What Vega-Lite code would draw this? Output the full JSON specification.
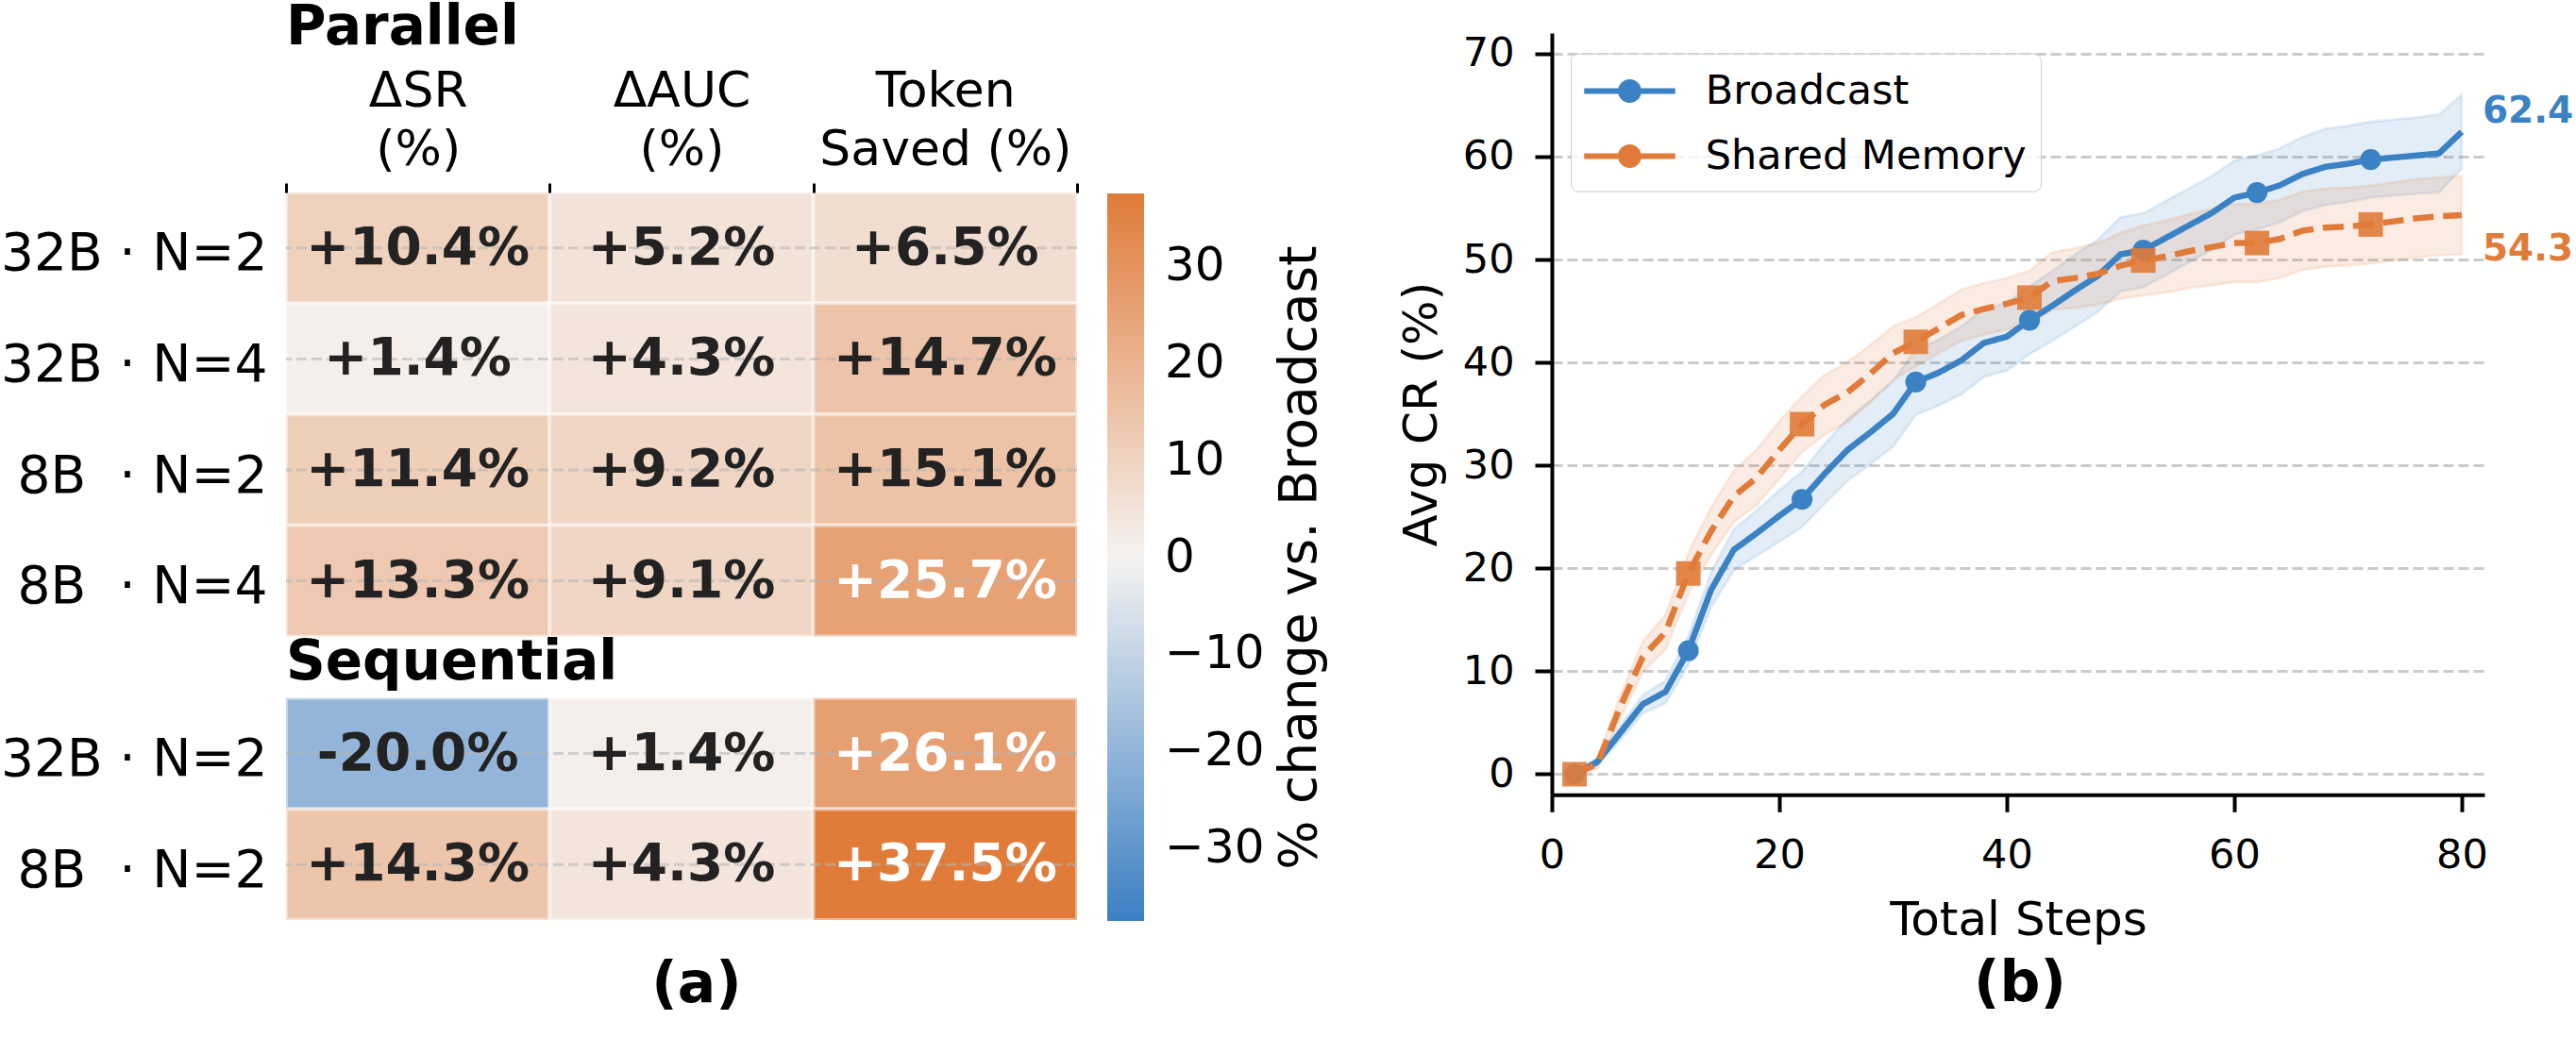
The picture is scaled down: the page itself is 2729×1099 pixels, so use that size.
{
  "$schema": "https://vega.github.io/schema/vega-lite/v6.json",
  "background": "white",
  "autosize": {"type": "pad"},
  "padding": {"left": 0, "top": 1, "right": 0, "bottom": 6},
  "spacing": 503,
  "bounds": "flush",
  "config": {
    "font": "DejaVu Sans",
    "view": {"stroke": null},
    "axis": {"labelColor": "black", "titleColor": "black", "titleFontWeight": "normal", "domainColor": "black", "tickColor": "black"},
    "title": {"color": "black"}
  },
  "hconcat": [
    {
      "width": 838,
      "height": 940,
      "data": {"values": [
        {"setting": "Parallel", "cfg": "32B · N=2", "row": 0, "metric": "ΔSR (%)", "value": 10.4, "label": "+10.4%"},
        {"setting": "Parallel", "cfg": "32B · N=2", "row": 0, "metric": "ΔAUC (%)", "value": 5.2, "label": "+5.2%"},
        {"setting": "Parallel", "cfg": "32B · N=2", "row": 0, "metric": "Token Saved (%)", "value": 6.5, "label": "+6.5%"},
        {"setting": "Parallel", "cfg": "32B · N=4", "row": 1, "metric": "ΔSR (%)", "value": 1.4, "label": "+1.4%"},
        {"setting": "Parallel", "cfg": "32B · N=4", "row": 1, "metric": "ΔAUC (%)", "value": 4.3, "label": "+4.3%"},
        {"setting": "Parallel", "cfg": "32B · N=4", "row": 1, "metric": "Token Saved (%)", "value": 14.7, "label": "+14.7%"},
        {"setting": "Parallel", "cfg": "8B · N=2", "row": 2, "metric": "ΔSR (%)", "value": 11.4, "label": "+11.4%"},
        {"setting": "Parallel", "cfg": "8B · N=2", "row": 2, "metric": "ΔAUC (%)", "value": 9.2, "label": "+9.2%"},
        {"setting": "Parallel", "cfg": "8B · N=2", "row": 2, "metric": "Token Saved (%)", "value": 15.1, "label": "+15.1%"},
        {"setting": "Parallel", "cfg": "8B · N=4", "row": 3, "metric": "ΔSR (%)", "value": 13.3, "label": "+13.3%"},
        {"setting": "Parallel", "cfg": "8B · N=4", "row": 3, "metric": "ΔAUC (%)", "value": 9.1, "label": "+9.1%"},
        {"setting": "Parallel", "cfg": "8B · N=4", "row": 3, "metric": "Token Saved (%)", "value": 25.7, "label": "+25.7%"},
        {"setting": "Sequential", "cfg": "32B · N=2", "row": 5, "metric": "ΔSR (%)", "value": -20.0, "label": "-20.0%"},
        {"setting": "Sequential", "cfg": "32B · N=2", "row": 5, "metric": "ΔAUC (%)", "value": 1.4, "label": "+1.4%"},
        {"setting": "Sequential", "cfg": "32B · N=2", "row": 5, "metric": "Token Saved (%)", "value": 26.1, "label": "+26.1%"},
        {"setting": "Sequential", "cfg": "8B · N=2", "row": 6, "metric": "ΔSR (%)", "value": 14.3, "label": "+14.3%"},
        {"setting": "Sequential", "cfg": "8B · N=2", "row": 6, "metric": "ΔAUC (%)", "value": 4.3, "label": "+4.3%"},
        {"setting": "Sequential", "cfg": "8B · N=2", "row": 6, "metric": "Token Saved (%)", "value": 37.5, "label": "+37.5%"}
      ]},
      "transform": [
        {"calculate": "datum.row + 1", "as": "row_end"},
        {"calculate": "datum.row + 0.5", "as": "row_mid"}
      ],
      "title": {"text": "(a)", "orient": "bottom", "frame": "group", "anchor": "middle", "fontSize": 60, "fontWeight": "bold", "offset": 38, "dx": 16},
      "layer": [
        {
          "mark": {"type": "rect", "stroke": "white", "strokeWidth": 4, "strokeOpacity": 0.45},
          "encoding": {
            "x": {"field": "metric", "type": "nominal",
              "scale": {"domain": ["ΔSR (%)", "ΔAUC (%)", "Token Saved (%)"], "paddingInner": 0, "paddingOuter": 0},
              "axis": {"orient": "top", "title": null, "domain": false, "tickBand": "extent", "tickSize": 10, "tickWidth": 3, "offset": -169, "labelAngle": 0, "labelFontSize": 52, "labelLineHeight": 62, "labelPadding": 71, "labelLimit": 0, "labelExpr": "datum.label == 'Token Saved (%)' ? ['Token', 'Saved (%)'] : split(datum.label, ' ')"}},
            "y": {"field": "row", "type": "quantitative",
              "scale": {"domain": [-1.4371, 4, 5, 7], "range": [0, 639.4, 704.8, 940], "nice": false, "zero": false},
              "axis": {"orient": "left", "title": null, "values": [0.5, 1.5, 2.5, 3.5, 5.5, 6.5], "domain": false, "ticks": false, "tickSize": 0, "grid": false, "labelFontSize": 55, "labelPadding": 20, "labelOffset": 6, "labelLimit": 0,
                "labelExpr": "datum.value < 1 ? '32B · N=2' : datum.value < 2 ? '32B · N=4' : datum.value < 3 ? '8B\u00a0 · N=2' : datum.value < 4 ? '8B\u00a0 · N=4' : datum.value < 6 ? '32B · N=2' : '8B\u00a0 · N=2'"}},
            "y2": {"field": "row_end"},
            "color": {"field": "value", "type": "quantitative",
              "scale": {"type": "linear", "domain": [-37.5, 0, 37.5], "range": ["#3b7fc4", "#f5f3f1", "#e07b39"], "interpolate": "rgb"},
              "legend": {"orient": "none", "legendX": 870, "legendY": 170, "direction": "vertical", "gradientLength": 771, "gradientThickness": 39, "gradientStrokeWidth": 0,
                "values": [-30, -20, -10, 0, 10, 20, 30], "labelFontSize": 50, "labelColor": "black", "labelOffset": 22, "labelOverlap": false,
                "title": "% change vs. Broadcast", "titleOrient": "right", "titleFontSize": 55, "titleFontWeight": "normal", "titleColor": "black", "titlePadding": 11, "titleAnchor": "middle", "titleLimit": 0, "padding": 0,
                "encode": {"title": {"update": {"angle": {"value": -90}, "baseline": {"value": "top"}}}}}
            }
          }
        },
        {
          "transform": [{"filter": "datum.metric == 'ΔSR (%)'"}],
          "mark": {"type": "rule", "strokeDash": [11, 5], "strokeWidth": 3, "color": "#b5b5b5", "opacity": 0.55},
          "encoding": {"y": {"field": "row_mid", "type": "quantitative"}}
        },
        {
          "mark": {"type": "text", "fontSize": 55, "fontWeight": "bold", "baseline": "middle", "align": "center"},
          "encoding": {
            "x": {"field": "metric", "type": "nominal"},
            "y": {"field": "row_mid", "type": "quantitative"},
            "text": {"field": "label"},
            "color": {"condition": {"test": "datum.value > 20", "value": "white"}, "value": "#222222"}
          }
        },
        {
          "data": {"values": [{"group": "Parallel"}]},
          "mark": {"type": "text", "fontSize": 58, "fontWeight": "bold", "align": "left", "baseline": "alphabetic", "color": "black"},
          "encoding": {
            "x": {"datum": "ΔSR (%)", "type": "nominal", "bandPosition": 0},
            "y": {"datum": -1.335, "type": "quantitative"},
            "text": {"field": "group"}
          }
        },
        {
          "data": {"values": [{"group": "Sequential"}]},
          "mark": {"type": "text", "fontSize": 58, "fontWeight": "bold", "align": "left", "baseline": "alphabetic", "color": "black"},
          "encoding": {
            "x": {"datum": "ΔSR (%)", "type": "nominal", "bandPosition": 0},
            "y": {"datum": 4.697, "type": "quantitative"},
            "text": {"field": "group"}
          }
        }
      ]
    },
    {
      "width": 988,
      "height": 807.3,
      "data": {"values": [
        {"series": "Broadcast", "step": 2, "mean": 0.0, "lo": 0.0, "hi": 0.0},
        {"series": "Broadcast", "step": 4, "mean": 1.2, "lo": 0.8, "hi": 1.6},
        {"series": "Broadcast", "step": 6, "mean": 4.0, "lo": 3.3, "hi": 4.7},
        {"series": "Broadcast", "step": 8, "mean": 6.8, "lo": 5.9, "hi": 7.7},
        {"series": "Broadcast", "step": 10, "mean": 8.0, "lo": 6.9, "hi": 9.1},
        {"series": "Broadcast", "step": 12, "mean": 12.0, "lo": 10.6, "hi": 13.4},
        {"series": "Broadcast", "step": 14, "mean": 17.9, "lo": 16.2, "hi": 19.6},
        {"series": "Broadcast", "step": 16, "mean": 21.8, "lo": 19.8, "hi": 23.8},
        {"series": "Broadcast", "step": 18, "mean": 23.4, "lo": 21.2, "hi": 25.6},
        {"series": "Broadcast", "step": 20, "mean": 25.1, "lo": 22.6, "hi": 27.6},
        {"series": "Broadcast", "step": 22, "mean": 26.7, "lo": 24.0, "hi": 29.4},
        {"series": "Broadcast", "step": 24, "mean": 29.2, "lo": 26.3, "hi": 32.1},
        {"series": "Broadcast", "step": 26, "mean": 31.5, "lo": 28.5, "hi": 34.5},
        {"series": "Broadcast", "step": 28, "mean": 33.2, "lo": 30.1, "hi": 36.3},
        {"series": "Broadcast", "step": 30, "mean": 35.0, "lo": 31.8, "hi": 38.2},
        {"series": "Broadcast", "step": 32, "mean": 38.1, "lo": 34.9, "hi": 41.3},
        {"series": "Broadcast", "step": 34, "mean": 39.0, "lo": 35.8, "hi": 42.2},
        {"series": "Broadcast", "step": 36, "mean": 40.2, "lo": 36.9, "hi": 43.5},
        {"series": "Broadcast", "step": 38, "mean": 41.9, "lo": 38.6, "hi": 45.2},
        {"series": "Broadcast", "step": 40, "mean": 42.5, "lo": 39.2, "hi": 45.8},
        {"series": "Broadcast", "step": 42, "mean": 44.1, "lo": 40.8, "hi": 47.4},
        {"series": "Broadcast", "step": 44, "mean": 45.5, "lo": 42.1, "hi": 48.9},
        {"series": "Broadcast", "step": 46, "mean": 47.0, "lo": 43.5, "hi": 50.5},
        {"series": "Broadcast", "step": 48, "mean": 48.4, "lo": 44.9, "hi": 51.9},
        {"series": "Broadcast", "step": 50, "mean": 50.5, "lo": 46.9, "hi": 54.1},
        {"series": "Broadcast", "step": 52, "mean": 50.9, "lo": 47.3, "hi": 54.5},
        {"series": "Broadcast", "step": 54, "mean": 52.1, "lo": 48.5, "hi": 55.7},
        {"series": "Broadcast", "step": 56, "mean": 53.3, "lo": 49.7, "hi": 56.9},
        {"series": "Broadcast", "step": 58, "mean": 54.5, "lo": 50.9, "hi": 58.1},
        {"series": "Broadcast", "step": 60, "mean": 56.0, "lo": 52.4, "hi": 59.6},
        {"series": "Broadcast", "step": 62, "mean": 56.5, "lo": 52.9, "hi": 60.1},
        {"series": "Broadcast", "step": 64, "mean": 57.2, "lo": 53.6, "hi": 60.8},
        {"series": "Broadcast", "step": 66, "mean": 58.3, "lo": 54.7, "hi": 61.9},
        {"series": "Broadcast", "step": 68, "mean": 59.0, "lo": 55.3, "hi": 62.7},
        {"series": "Broadcast", "step": 70, "mean": 59.3, "lo": 55.6, "hi": 63.0},
        {"series": "Broadcast", "step": 72, "mean": 59.7, "lo": 56.0, "hi": 63.4},
        {"series": "Broadcast", "step": 74, "mean": 59.9, "lo": 56.2, "hi": 63.6},
        {"series": "Broadcast", "step": 76, "mean": 60.1, "lo": 56.4, "hi": 63.8},
        {"series": "Broadcast", "step": 78, "mean": 60.3, "lo": 56.5, "hi": 64.1},
        {"series": "Broadcast", "step": 80, "mean": 62.4, "lo": 58.8, "hi": 66.0},
        {"series": "Shared Memory", "step": 2, "mean": 0.0, "lo": 0.0, "hi": 0.0},
        {"series": "Shared Memory", "step": 4, "mean": 1.0, "lo": 0.5, "hi": 1.5},
        {"series": "Shared Memory", "step": 6, "mean": 6.5, "lo": 5.4, "hi": 7.6},
        {"series": "Shared Memory", "step": 8, "mean": 11.4, "lo": 9.9, "hi": 12.9},
        {"series": "Shared Memory", "step": 10, "mean": 13.8, "lo": 12.1, "hi": 15.5},
        {"series": "Shared Memory", "step": 12, "mean": 19.5, "lo": 17.5, "hi": 21.5},
        {"series": "Shared Memory", "step": 14, "mean": 23.6, "lo": 21.3, "hi": 25.9},
        {"series": "Shared Memory", "step": 16, "mean": 27.0, "lo": 24.5, "hi": 29.5},
        {"series": "Shared Memory", "step": 18, "mean": 28.8, "lo": 26.1, "hi": 31.5},
        {"series": "Shared Memory", "step": 20, "mean": 31.5, "lo": 28.7, "hi": 34.3},
        {"series": "Shared Memory", "step": 22, "mean": 34.0, "lo": 31.3, "hi": 36.7},
        {"series": "Shared Memory", "step": 24, "mean": 35.9, "lo": 33.0, "hi": 38.8},
        {"series": "Shared Memory", "step": 26, "mean": 37.1, "lo": 34.2, "hi": 40.0},
        {"series": "Shared Memory", "step": 28, "mean": 38.9, "lo": 36.1, "hi": 41.7},
        {"series": "Shared Memory", "step": 30, "mean": 40.9, "lo": 38.3, "hi": 43.5},
        {"series": "Shared Memory", "step": 32, "mean": 42.0, "lo": 39.6, "hi": 44.4},
        {"series": "Shared Memory", "step": 34, "mean": 43.3, "lo": 40.9, "hi": 45.7},
        {"series": "Shared Memory", "step": 36, "mean": 44.6, "lo": 42.1, "hi": 47.1},
        {"series": "Shared Memory", "step": 38, "mean": 45.2, "lo": 42.7, "hi": 47.7},
        {"series": "Shared Memory", "step": 40, "mean": 45.7, "lo": 43.2, "hi": 48.2},
        {"series": "Shared Memory", "step": 42, "mean": 46.3, "lo": 43.7, "hi": 48.9},
        {"series": "Shared Memory", "step": 44, "mean": 47.9, "lo": 45.1, "hi": 50.7},
        {"series": "Shared Memory", "step": 46, "mean": 48.2, "lo": 45.3, "hi": 51.1},
        {"series": "Shared Memory", "step": 48, "mean": 48.6, "lo": 45.6, "hi": 51.6},
        {"series": "Shared Memory", "step": 50, "mean": 49.4, "lo": 46.2, "hi": 52.6},
        {"series": "Shared Memory", "step": 52, "mean": 49.9, "lo": 46.5, "hi": 53.3},
        {"series": "Shared Memory", "step": 54, "mean": 50.3, "lo": 46.8, "hi": 53.8},
        {"series": "Shared Memory", "step": 56, "mean": 50.8, "lo": 47.2, "hi": 54.4},
        {"series": "Shared Memory", "step": 58, "mean": 51.2, "lo": 47.5, "hi": 54.9},
        {"series": "Shared Memory", "step": 60, "mean": 51.6, "lo": 47.8, "hi": 55.4},
        {"series": "Shared Memory", "step": 62, "mean": 51.6, "lo": 47.8, "hi": 55.4},
        {"series": "Shared Memory", "step": 64, "mean": 52.0, "lo": 48.2, "hi": 55.8},
        {"series": "Shared Memory", "step": 66, "mean": 52.8, "lo": 49.0, "hi": 56.6},
        {"series": "Shared Memory", "step": 68, "mean": 53.1, "lo": 49.3, "hi": 56.9},
        {"series": "Shared Memory", "step": 70, "mean": 53.2, "lo": 49.4, "hi": 57.0},
        {"series": "Shared Memory", "step": 72, "mean": 53.4, "lo": 49.6, "hi": 57.2},
        {"series": "Shared Memory", "step": 74, "mean": 53.7, "lo": 49.9, "hi": 57.5},
        {"series": "Shared Memory", "step": 76, "mean": 54.0, "lo": 50.2, "hi": 57.8},
        {"series": "Shared Memory", "step": 78, "mean": 54.2, "lo": 50.4, "hi": 58.0},
        {"series": "Shared Memory", "step": 80, "mean": 54.3, "lo": 50.5, "hi": 58.1}
      ]},
      "title": {"text": "(b)", "orient": "bottom", "frame": "group", "anchor": "middle", "fontSize": 60, "fontWeight": "bold", "offset": 14, "dx": 2},
      "layer": [
        {
          "mark": {"type": "area", "fillOpacity": 0.14, "strokeOpacity": 0.12, "strokeWidth": 3},
          "encoding": {
            "x": {"field": "step", "type": "quantitative",
              "scale": {"domain": [0, 82], "nice": false, "zero": false},
              "axis": {"values": [0, 20, 40, 60, 80], "title": "Total Steps", "titleFontSize": 50, "titlePadding": 22, "labelFontSize": 43, "labelPadding": 25, "tickSize": 18, "tickWidth": 4, "domainWidth": 4, "grid": false, "labelFlush": false}},
            "y": {"field": "lo", "type": "quantitative",
              "scale": {"domain": [-2, 72], "nice": false, "zero": false},
              "axis": {"values": [0, 10, 20, 30, 40, 50, 60, 70], "title": "Avg CR (%)", "titleFontSize": 50, "titlePadding": 18, "labelFontSize": 43, "labelPadding": 22, "tickSize": 18, "tickWidth": 4, "domainWidth": 4, "grid": true, "gridDash": [11, 5], "gridColor": "#cbcbcb", "gridWidth": 3}},
            "y2": {"field": "hi"},
            "fill": {"field": "series", "type": "nominal", "scale": {"domain": ["Broadcast", "Shared Memory"], "range": ["#3b82c4", "#e07b39"]}, "legend": null},
            "stroke": {"field": "series", "type": "nominal", "scale": {"domain": ["Broadcast", "Shared Memory"], "range": ["#3b82c4", "#e07b39"]}, "legend": null}
          }
        },
        {
          "mark": {"type": "line", "strokeWidth": 6.5, "strokeJoin": "round"},
          "encoding": {
            "x": {"field": "step", "type": "quantitative"},
            "y": {"field": "mean", "type": "quantitative"},
            "stroke": {"field": "series", "type": "nominal", "legend": null},
            "strokeDash": {"field": "series", "type": "nominal", "scale": {"domain": ["Broadcast", "Shared Memory"], "range": [[1, 0], [22, 10]]}, "legend": null}
          }
        },
        {
          "transform": [{"filter": "datum.series == 'Broadcast' && datum.step % 10 == 2"}],
          "mark": {"type": "point", "filled": true, "shape": "circle", "size": 490, "opacity": 1},
          "encoding": {
            "x": {"field": "step", "type": "quantitative"},
            "y": {"field": "mean", "type": "quantitative"},
            "fill": {"field": "series", "type": "nominal", "legend": null}
          }
        },
        {
          "transform": [{"filter": "datum.series == 'Shared Memory' && datum.step % 10 == 2"}],
          "mark": {"type": "point", "filled": true, "shape": "square", "size": 676, "opacity": 0.9},
          "encoding": {
            "x": {"field": "step", "type": "quantitative"},
            "y": {"field": "mean", "type": "quantitative"},
            "fill": {"field": "series", "type": "nominal", "legend": null}
          }
        },
        {
          "transform": [{"filter": "datum.step < 0"}],
          "mark": {"type": "point", "filled": true, "size": 2500, "opacity": 1},
          "encoding": {
            "x": {"field": "step", "type": "quantitative"},
            "y": {"field": "mean", "type": "quantitative"},
            "color": {"field": "series", "type": "nominal",
              "scale": {"domain": ["Broadcast", "Shared Memory"], "range": ["#3b82c4", "#e07b39"]},
              "legend": {"orient": "none", "legendX": 20, "legendY": 21.6, "title": null, "padding": 15,
                "strokeColor": "#cccccc", "cornerRadius": 8, "fillColor": "rgba(255,255,255,0.8)",
                "labelFontSize": 43, "labelColor": "black", "labelLimit": 0, "symbolOffset": 22.5, "labelOffset": 55.3, "rowPadding": 22,
                "symbolType": "M-1.93,-0.12H1.93V0.12H-1.93Z M0.5,0A0.5,0.5 0 1,1 -0.5,0A0.5,0.5 0 1,1 0.5,0Z",
                "symbolSize": 2500, "symbolStrokeWidth": 0, "symbolOpacity": 1}
            }
          }
        },
        {
          "transform": [{"filter": "datum.series == 'Broadcast' && datum.step == 80"}],
          "mark": {"type": "text", "align": "left", "baseline": "middle", "dx": 22, "dy": -22, "fontSize": 39, "fontWeight": "bold", "color": "#3b82c4"},
          "encoding": {
            "x": {"field": "step", "type": "quantitative"},
            "y": {"field": "mean", "type": "quantitative"},
            "text": {"field": "mean", "type": "quantitative", "format": ".1f"}
          }
        },
        {
          "transform": [{"filter": "datum.series == 'Shared Memory' && datum.step == 80"}],
          "mark": {"type": "text", "align": "left", "baseline": "middle", "dx": 22, "dy": 36, "fontSize": 39, "fontWeight": "bold", "color": "#e07b39"},
          "encoding": {
            "x": {"field": "step", "type": "quantitative"},
            "y": {"field": "mean", "type": "quantitative"},
            "text": {"field": "mean", "type": "quantitative", "format": ".1f"}
          }
        }
      ]
    }
  ]
}
